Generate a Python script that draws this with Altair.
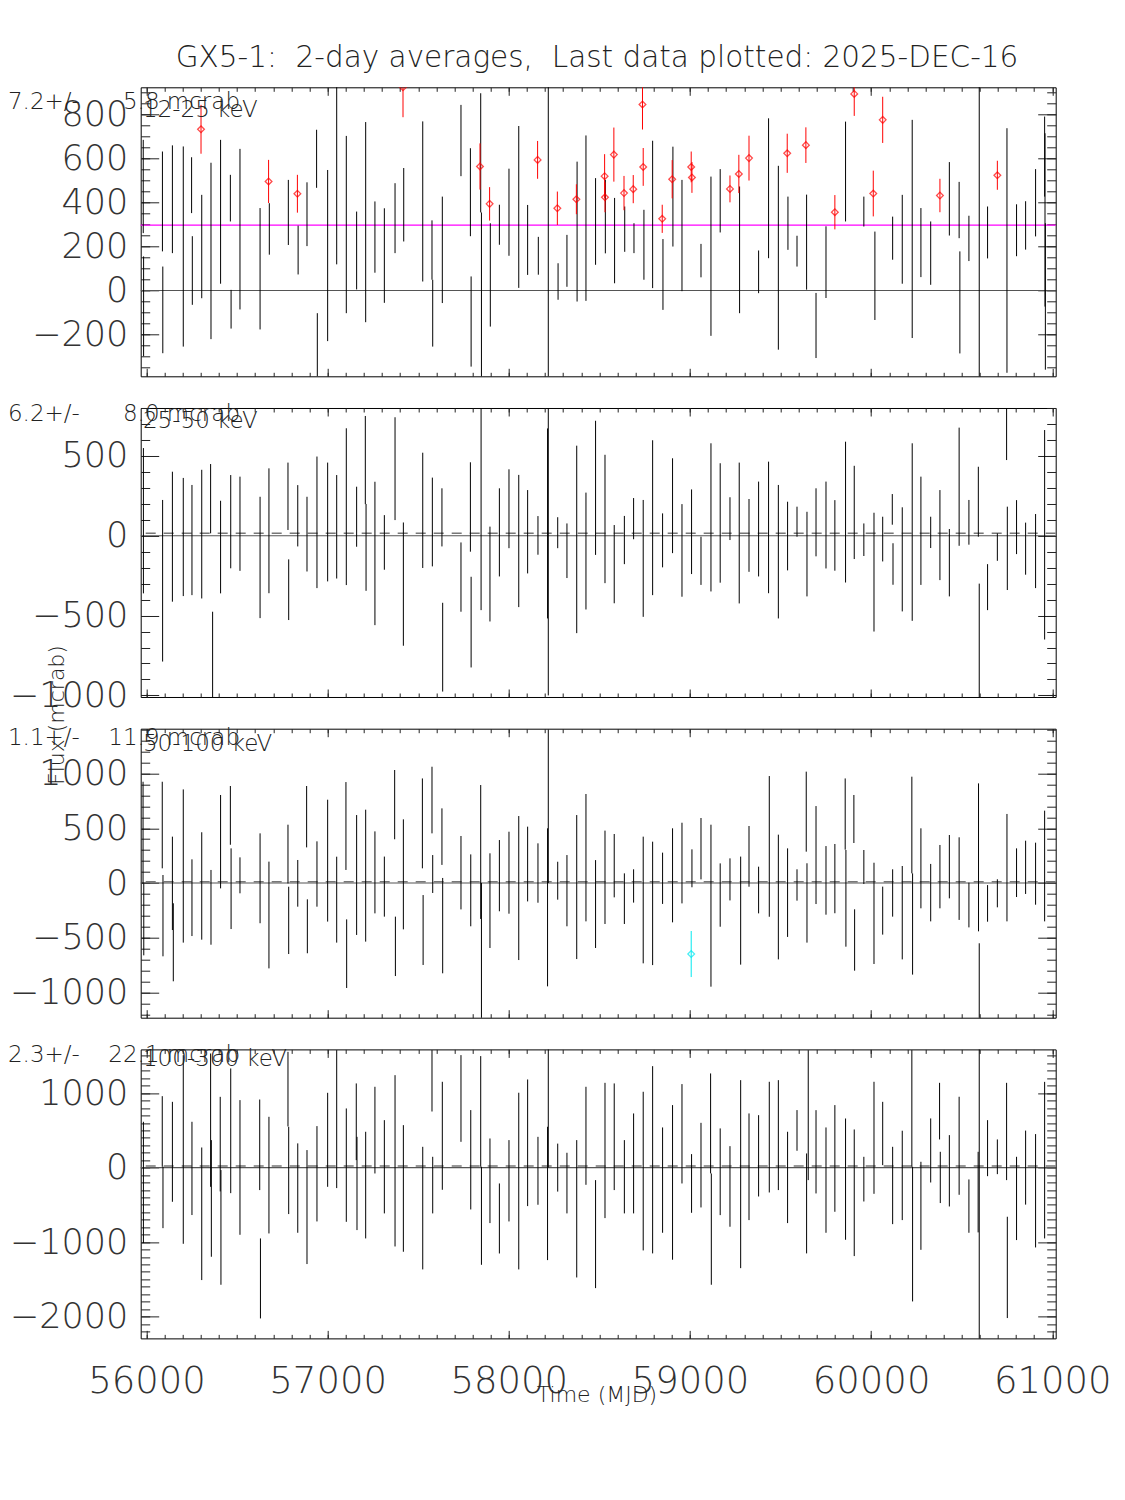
import altair as alt
import pandas as pd

# ---------------- axis / layout values ----------------
X_DOMAIN = [55968, 61019]
X_MAJOR = list(range(56000, 61001, 1000))
X_MINOR = list(range(56000, 61001, 100))

Y_DOMAINS = [[-390, 924], [-1010, 800], [-1229, 1408], [-2293, 1587]]
Y_MAJOR = [[-200, 0, 200, 400, 600, 800],
           [-1000, -500, 0, 500],
           [-1000, -500, 0, 500, 1000],
           [-2000, -1000, 0, 1000]]
Y_MINOR_STEP = [50, 100, 100, 100]

BANDS = ["12-25 keV", "25-50 keV", "50-100 keV", "100-300 keV"]
MEANS = [297.2, 16.2, 11.1, 22.3]
MEAN_TXT = ["7.2+/-", "6.2+/-", "1.1+/-", "2.3+/-"]
ERR_TXT = ["5.8 mcrab", "8.0 mcrab", "11.9 mcrab", "22.1 mcrab"]
TITLE = "GX5-1:\u00a0\u00a02-day averages,\u00a0\u00a0Last data plotted: 2025-DEC-16"

# ---------------- panel 1 : 12-25 keV ----------------
T1 = [55982, 55984, 56088, 56090, 56143, 56203, 56249, 56253, 56301, 56305,
      56356, 56409, 56463, 56467, 56516, 56627, 56674, 56678, 56783, 56833,
      56837, 56886, 56939, 56943, 57000, 57050, 57103, 57160, 57210, 57261,
      57313, 57372, 57416, 57420, 57525, 57576, 57580, 57633, 57736, 57788,
      57792, 57841, 57845, 57849, 57894, 57898, 57948, 58001, 58055, 58104,
      58159, 58163, 58218, 58268, 58272, 58321, 58373, 58377, 58426, 58479,
      58529, 58531, 58533, 58580, 58584, 58636, 58640, 58687, 58691, 58738,
      58742, 58746, 58794, 58847, 58851, 58902, 58906, 58956, 59007, 59011,
      59061, 59116, 59167, 59221, 59270, 59274, 59326, 59379, 59434, 59488,
      59537, 59541, 59591, 59640, 59644, 59696, 59751, 59800, 59859, 59907,
      59960, 60012, 60021, 60064, 60119, 60172, 60227, 60275, 60329, 60380,
      60432, 60486, 60490, 60540, 60597, 60643, 60697, 60750, 60803, 60853,
      60908, 60958, 60960, 60962]
V1 = [473, -72, 405, -88, 415, 200, 479, 91, 733, 200,
      180, 358, 420, -85, 279, 99, 496, 280, 355, 440,
      184, 347, 599, -247, 159, 523, 300, 182, 311, 243,
      159, 329, 924, 390, 405, 184, -103, 185, 682, 447,
      -141, 564, 626, -25, 394, 71, 299, 356, 380, 230,
      594, 158, 250, 374, 41, 135, 415, 268, 329, 314,
      520, 424, 336, 618, 227, 443, 279, 461, 238, 846,
      562, 208, 346, 326, 73, 506, 427, 250, 562, 514,
      136, 156, 408, 462, 530, 185, 602, 85, 465, 149,
      624, 306, 179, 661, 220, -159, 129, 356, 541, 894,
      359, 441, 67, 776, 238, 233, 280, 218, 170, 432,
      417, 366, -54, 237, 300, 264, 524, 182, 274, 296,
      399, 609, 321, -27]
E1 = [212, 227, 227, 197, 245, 455, 127, 156, 111, 235,
      401, 327, 106, 88, 365, 276, 98, 117, 148, 86,
      111, 145, 132, 144, 389, 404, 403, 177, 455, 162,
      215, 159, 136, 167, 364, 135, 152, 242, 162, 200,
      205, 105, 271, 380, 76, 235, 91, 198, 368, 159,
      86, 86, 800, 76, 83, 118, 68, 318, 376, 197,
      100, 68, 167, 123, 194, 78, 103, 64, 68, 114,
      86, 159, 335, 64, 161, 87, 227, 253, 70, 70,
      76, 362, 144, 61, 87, 288, 102, 97, 318, 418,
      89, 121, 70, 81, 216, 148, 163, 78, 227, 100,
      68, 104, 201, 105, 98, 202, 496, 157, 144, 76,
      167, 128, 232, 103, 800, 118, 66, 556, 118, 110,
      153, 182, 394, 333]
F1 = ["k", "k", "k", "k", "k", "k", "k", "k", "r", "k",
      "k", "k", "k", "k", "k", "k", "r", "k", "k", "r",
      "k", "k", "k", "k", "k", "k", "k", "k", "k", "k",
      "k", "k", "r", "k", "k", "k", "k", "k", "k", "k",
      "k", "r", "k", "k", "r", "k", "k", "k", "k", "k",
      "r", "k", "k", "r", "k", "k", "r", "k", "k", "k",
      "r", "r", "k", "r", "k", "r", "k", "r", "k", "r",
      "r", "k", "k", "r", "k", "r", "k", "k", "r", "r",
      "k", "k", "k", "r", "r", "k", "r", "k", "k", "k",
      "r", "k", "k", "r", "k", "k", "k", "r", "k", "r",
      "k", "r", "k", "r", "k", "k", "k", "k", "k", "r",
      "k", "k", "k", "k", "k", "k", "r", "k", "k", "k",
      "k", "k", "k", "k"]

# ---------------- panel 2 : 25-50 keV ----------------
T2 = [55983, 56089, 56143, 56203, 56251, 56305, 56354, 56365, 56409, 56465,
      56516, 56627, 56676, 56781, 56785, 56835, 56886, 56941, 57000, 57050,
      57103, 57160, 57208, 57212, 57261, 57313, 57372, 57418, 57525, 57578,
      57631, 57635, 57736, 57788, 57792, 57847, 57896, 57948, 58001, 58055,
      58104, 58161, 58214, 58218, 58270, 58321, 58375, 58426, 58479, 58531,
      58582, 58638, 58689, 58742, 58794, 58849, 58904, 58956, 59009, 59061,
      59116, 59167, 59221, 59272, 59326, 59379, 59434, 59488, 59539, 59591,
      59646, 59696, 59751, 59800, 59859, 59907, 59960, 60016, 60064, 60117,
      60121, 60172, 60227, 60275, 60329, 60380, 60432, 60486, 60540, 60592,
      60597, 60643, 60697, 60748, 60752, 60803, 60853, 60908, 60958]
V2 = [94, -282, -6, -8, -27, 10, 232, -821, -71, 88,
      75, -136, 31, 247, -338, 125, 10, 84, 86, 56,
      182, 119, 474, -73, -111, -42, 420, -303, 159, 86,
      115, -698, -259, 180, -541, 167, -240, 21, 169, -33,
      25, 2, 77, 0, 19, -94, -23, -96, 300, 105,
      -178, -27, 107, -142, 113, -29, 188, -92, 25, -157,
      115, 80, 107, 17, 2, 42, 52, -100, -2, 88,
      -115, 84, 67, 2, 148, 146, -25, -228, -21, 165,
      -177, -148, 23, 31, 21, 4, -169, 307, 84, 213,
      -800, -322, -71, 641, -79, 54, -81, -96, 6]
E2 = [455, 506, 407, 370, 345, 403, 217, 345, 290, 292,
      295, 380, 391, 211, 190, 192, 234, 412, 372, 324,
      491, 188, 276, 272, 449, 171, 322, 386, 361, 278,
      182, 278, 217, 280, 284, 633, 297, 276, 247, 414,
      261, 121, 595, 1000, 97, 171, 587, 366, 420, 402,
      245, 151, 129, 366, 485, 169, 297, 290, 265, 151,
      464, 374, 134, 441, 228, 297, 412, 418, 215, 94,
      265, 213, 272, 221, 441, 292, 102, 372, 140, 96,
      130, 326, 556, 339, 98, 282, 211, 370, 140, 219,
      500, 144, 86, 167, 261, 169, 163, 232, 656]

# ---------------- panel 3 : 50-100 keV ----------------
T3 = [55981, 55985, 56087, 56091, 56143, 56148, 56203, 56251, 56305, 56356,
      56409, 56463, 56467, 56516, 56627, 56676, 56781, 56785, 56835, 56884,
      56888, 56941, 57000, 57050, 57101, 57105, 57160, 57210, 57261, 57313,
      57370, 57374, 57418, 57523, 57527, 57576, 57580, 57631, 57635, 57736,
      57790, 57845, 57849, 57896, 57948, 58001, 58055, 58104, 58161, 58214,
      58218, 58270, 58321, 58375, 58426, 58479, 58531, 58582, 58638, 58689,
      58742, 58794, 58849, 58904, 58956, 59007, 59011, 59061, 59116, 59167,
      59221, 59280, 59326, 59379, 59438, 59488, 59539, 59591, 59642, 59646,
      59696, 59751, 59800, 59857, 59861, 59905, 59909, 59960, 60016, 60064,
      60119, 60172, 60225, 60229, 60275, 60329, 60380, 60432, 60486, 60540,
      60593, 60597, 60643, 60697, 60750, 60803, 60853, 60908, 60958]
V3 = [459, -332, 529, -298, -3, -541, 155, -134, -27, -222,
      377, 617, -52, 70, 43, -292, 264, -341, -3, 605,
      -395, 82, 204, -152, 520, -645, 73, 67, 97, -33,
      715, -578, 79, 544, -429, 757, 82, 423, -389, 94,
      -67, 283, -700, -161, 67, 94, -46, 173, 91, -222,
      700, 21, -70, -37, 231, -192, 52, 158, -143, -27,
      -155, -186, 43, 70, 182, -648, 134, 313, -207, -110,
      33, -252, 243, -64, 334, -128, -88, -18, 651, -182,
      255, 24, 40, 629, -140, 584, -520, 146, -277, -252,
      -91, -271, 529, -374, 134, -88, 58, 149, 40, -201,
      234, -1000, -186, -94, 140, 94, 143, 85, 155]
E3 = [465, 328, 395, 371, 426, 356, 699, 350, 490, 341,
      426, 268, 368, 164, 410, 487, 268, 307, 213, 280,
      246, 298, 556, 392, 401, 313, 547, 602, 374, 274,
      316, 271, 502, 410, 319, 304, 173, 258, 435, 335,
      328, 611, 700, 432, 325, 374, 657, 341, 271, 721,
      700, 173, 325, 657, 581, 401, 426, 289, 231, 152,
      578, 563, 234, 429, 368, 210, 173, 280, 739, 289,
      192, 493, 277, 213, 642, 569, 404, 143, 365, 362,
      447, 313, 316, 325, 441, 219, 280, 155, 462, 219,
      216, 426, 441, 462, 365, 262, 289, 289, 377, 204,
      675, 450, 167, 128, 490, 222, 243, 283, 505]
F3 = ["k"] * 65 + ["c"] + ["k"] * 43

# ---------------- panel 4 : 100-300 keV ----------------
T4 = [55983, 56087, 56091, 56143, 56203, 56251, 56305, 56354, 56358, 56407,
      56411, 56465, 56516, 56625, 56629, 56676, 56781, 56785, 56835, 56886,
      56941, 57000, 57050, 57103, 57158, 57162, 57210, 57261, 57313, 57372,
      57418, 57525, 57576, 57580, 57633, 57736, 57790, 57845, 57849, 57896,
      57948, 58001, 58055, 58104, 58161, 58214, 58218, 58270, 58321, 58375,
      58426, 58479, 58531, 58582, 58638, 58689, 58742, 58794, 58849, 58904,
      58956, 59009, 59061, 59114, 59118, 59167, 59221, 59280, 59326, 59379,
      59438, 59488, 59539, 59591, 59644, 59653, 59696, 59751, 59800, 59859,
      59907, 59960, 60016, 60064, 60119, 60172, 60225, 60229, 60275, 60329,
      60378, 60382, 60432, 60486, 60540, 60591, 60597, 60643, 60697, 60748,
      60752, 60803, 60853, 60908, 60958]
V4 = [-199, 485, -401, 212, 243, -11, -620, 637, -414, 315,
      -803, 494, 2, 306, -1488, -101, 1053, -38, -275, -530,
      -83, 373, 651, 33, 615, -213, -235, 503, 11, 91,
      -280, -544, 1165, -235, 427, 928, 105, 754, -647, -177,
      -683, -177, -181, 333, -43, -347, 1200, 0, -208, -553,
      427, -893, 230, 414, -123, 56, -47, 105, -168, -199,
      454, -213, 33, 593, -826, -56, -253, -88, 11, 158,
      409, 436, -132, 499, -481, 704, 212, -168, 123, -155,
      -338, -155, 400, 458, -240, -105, 794, -893, -513, 230,
      758, -132, -43, 293, -517, -329, -300, 261, 145, 485,
      -1340, -414, 0, -311, 100]
E4 = [814, 474, 412, 671, 1266, 626, 890, 895, 783, 635,
      770, 837, 904, 608, 537, 783, 501, 586, 600, 765,
      640, 631, 926, 761, 515, 626, 716, 582, 626, 1150,
      850, 823, 412, 380, 725, 582, 667, 743, 658, 568,
      470, 546, 1186, 850, 456, 895, 1200, 322, 407, 922,
      658, 725, 908, 716, 492, 671, 1065, 1257, 707, 1038,
      667, 394, 568, 671, 747, 582, 541, 1262, 716, 546,
      743, 738, 613, 273, 671, 872, 559, 707, 716, 814,
      850, 300, 752, 425, 519, 600, 783, 904, 591, 430,
      380, 344, 479, 658, 358, 541, 2300, 376, 233, 653,
      680, 559, 497, 761, 1051]

PANELS = [(T1, V1, E1, F1), (T2, V2, E2, ["k"] * len(T2)),
          (T3, V3, E3, F3), (T4, V4, E4, ["k"] * len(T4))]

FONT = "DejaVu Sans"
W, H = 915, 289
SPACING = 31.7
PAD_LEFT, PAD_TOP = 132.7, 79.3
TOTAL_H = 4 * H + 3 * SPACING


def x_axis(orient, major, labels=False):
    size = 8 if major else 4
    kw = dict(orient=orient, values=X_MAJOR if major else X_MINOR,
              tickSize=size, offset=-size, domain=False, grid=False,
              tickColor="#222", tickWidth=1, title=None, labels=labels)
    if labels:
        kw.update(format="d", labelFont=FONT, labelFontSize=37,
                  labelFontWeight=200, labelColor="#333", labelPadding=25,
                  labelOverlap=False, labelFlush=False)
    return alt.Axis(**kw)


def y_axis(orient, major, i, labels=False):
    size = 18 if major else 9
    if major:
        vals = Y_MAJOR[i]
    else:
        lo, hi = Y_DOMAINS[i]
        s = Y_MINOR_STEP[i]
        vals = [v for v in range(-3000, 3001, s) if lo <= v <= hi]
    kw = dict(orient=orient, values=vals, tickSize=size, offset=-size,
              domain=False, grid=False, tickColor="#222", tickWidth=1,
              title=None, labels=labels)
    if labels:
        kw.update(format="d", labelFont=FONT, labelFontSize=35,
                  labelFontWeight=200, labelColor="#333", labelPadding=13,
                  labelOverlap=False, labelFlush=False, labelBaseline="middle")
    return alt.Axis(**kw)


def text_layer(txt, x, y, size, align="left", angle=0, color="#222"):
    return alt.Chart(pd.DataFrame({"s": [txt]})).mark_text(
        align=align, baseline="middle", font=FONT, fontSize=size,
        fontWeight=200, color=color, angle=angle
    ).encode(x=alt.value(x), y=alt.value(y), text="s:N")


# text positions relative to each panel's plot origin
MEAN_Y = [14.7, 6.0, 9.3, 5.7]
BAND_Y = [22.7, 13.0, 15.3, 9.7]


def make_panel(i):
    T, V, E, F = PANELS[i]
    df = pd.DataFrame({"t": T, "v": V, "e": E, "f": F})
    df["lo"] = df["v"] - df["e"]
    df["hi"] = df["v"] + df["e"]
    df["ord"] = (df["f"] != "k").astype(int)
    df = df.sort_values("ord")
    xs = alt.Scale(domain=X_DOMAIN, nice=False, zero=False)
    ys = alt.Scale(domain=Y_DOMAINS[i], nice=False, zero=False)
    col = alt.Color("f:N", scale=alt.Scale(domain=["k", "r", "c"],
                    range=["#000000", "#ff0000", "#00e8f0"]), legend=None)
    base = alt.Chart(df)

    bars = base.mark_rule(clip=True, strokeWidth=1).encode(
        x=alt.X("t:Q", scale=xs, axis=x_axis("bottom", True, labels=(i == 3))),
        y=alt.Y("lo:Q", scale=ys, axis=y_axis("left", True, i, labels=True)),
        y2="hi:Q", color=col, order=alt.Order("ord:Q"))
    ax2 = base.mark_point(opacity=0, clip=True).encode(
        x=alt.X("t:Q", scale=xs, axis=x_axis("bottom", False)),
        y=alt.Y("v:Q", scale=ys, axis=y_axis("left", False, i)))
    ax3 = base.mark_point(opacity=0, clip=True).encode(
        x=alt.X("t:Q", scale=xs, axis=x_axis("top", True)),
        y=alt.Y("v:Q", scale=ys, axis=y_axis("right", True, i)))
    ax4 = base.mark_point(opacity=0, clip=True).encode(
        x=alt.X("t:Q", scale=xs, axis=x_axis("top", False)),
        y=alt.Y("v:Q", scale=ys, axis=y_axis("right", False, i)))
    diam = base.transform_filter("datum.f != 'k'").mark_point(
        shape="diamond", filled=False, size=45, strokeWidth=1.3, clip=True
    ).encode(x=alt.X("t:Q", scale=xs, axis=None),
             y=alt.Y("v:Q", scale=ys, axis=None), color=col)

    zero = alt.Chart(pd.DataFrame({"y": [0]})).mark_rule(
        color="#555", strokeWidth=1.2).encode(
        y=alt.Y("y:Q", scale=ys, axis=None))
    if i == 0:
        mean = alt.Chart(pd.DataFrame({"y": [MEANS[i]]})).mark_rule(
            color="#ff00ff", strokeWidth=1.2).encode(
            y=alt.Y("y:Q", scale=ys, axis=None))
    else:
        mean = alt.Chart(pd.DataFrame({"y": [MEANS[i]]})).mark_rule(
            color="#777", strokeWidth=1.5, strokeDash=[10, 8]).encode(
            y=alt.Y("y:Q", scale=ys, axis=None))

    layers = [zero, mean, bars, diam, ax2, ax3, ax4,
              text_layer(MEAN_TXT[i], -PAD_LEFT, MEAN_Y[i], 23),
              text_layer(ERR_TXT[i], 99.3, MEAN_Y[i], 23, align="right"),
              text_layer(BANDS[i], 2.3, BAND_Y[i], 23)]
    if i == 0:
        layers.append(text_layer(TITLE, 456.3, -29.3, 29.5, align="center"))
    if i == 2:
        layers.append(text_layer("Flux (mcrab)", -83.7, -13.7, 22,
                                 align="center", angle=270))
    if i == 3:
        layers.append(text_layer("Time (MJD)", 456.3, 345.7, 22, align="center"))

    return alt.layer(*layers).resolve_axis(
        x="independent", y="independent").properties(width=W, height=H)


chart = alt.vconcat(*[make_panel(i) for i in range(4)],
                    spacing=SPACING, bounds="flush").configure_view(
    stroke="#000", strokeWidth=1).properties(
    padding={"left": PAD_LEFT, "top": PAD_TOP, "right": 60,
             "bottom": TOTAL_H + 120},
    autosize=alt.AutoSizeParams(type="none"))

chart.save("out.html", embed_options={"renderer": "svg", "actions": False})
